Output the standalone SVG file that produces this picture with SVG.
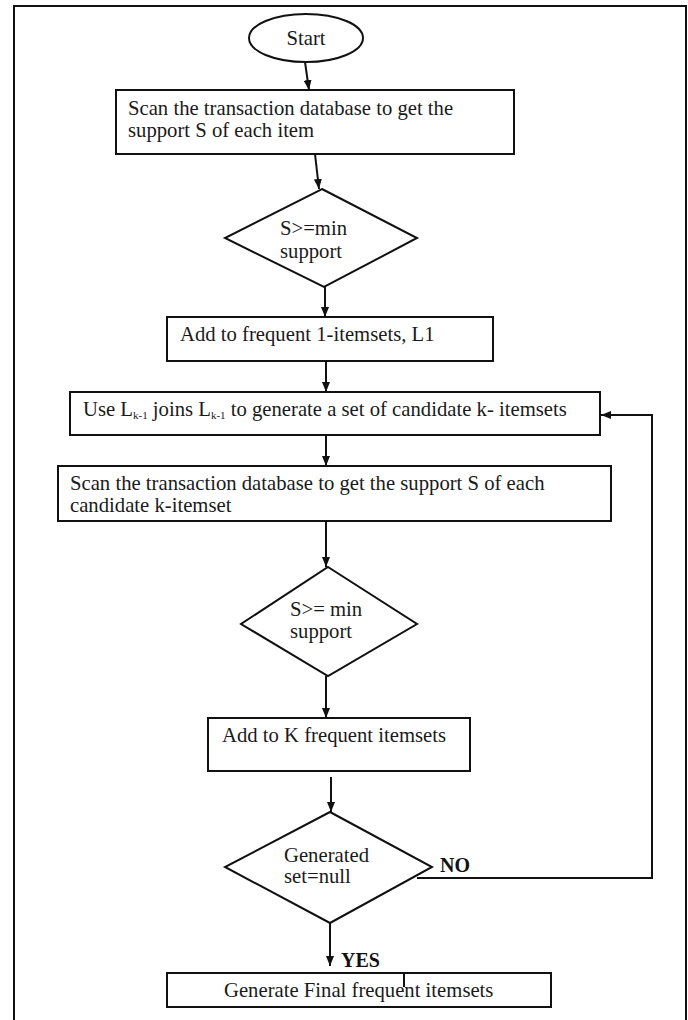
<svg xmlns="http://www.w3.org/2000/svg" width="688" height="1020" viewBox="0 0 688 1020">
<style>
.box{fill:#fff;stroke:#111;stroke-width:2}
.t{font-family:"Liberation Serif","Times New Roman",serif;font-size:20.7px;fill:#1a1a1a}
.b{font-family:"Liberation Serif","Times New Roman",serif;font-size:20px;font-weight:bold;fill:#111}
.c{fill:none;stroke:#111;stroke-width:2}
</style>
<defs>
<marker id="ah" markerUnits="userSpaceOnUse" markerWidth="10" markerHeight="8" refX="10" refY="4" orient="auto">
<path d="M0,0 L10,4 L0,8 z" fill="#111"/>
</marker>
</defs>
<rect width="688" height="1020" fill="#fff"/>
<path d="M14,1020 V6 H686 V1020" fill="none" stroke="#111" stroke-width="2"/>
<g id="connectors">
<line class="c" x1="305" y1="62" x2="309" y2="90" marker-end="url(#ah)"/>
<line class="c" x1="315" y1="154" x2="319" y2="189" marker-end="url(#ah)"/>
<line class="c" x1="325" y1="287" x2="325" y2="317" marker-end="url(#ah)"/>
<line class="c" x1="326" y1="361" x2="326" y2="392" marker-end="url(#ah)"/>
<line class="c" x1="326" y1="435" x2="326" y2="466" marker-end="url(#ah)"/>
<line class="c" x1="326" y1="521" x2="326" y2="567" marker-end="url(#ah)"/>
<line class="c" x1="326" y1="676" x2="326" y2="718" marker-end="url(#ah)"/>
<line class="c" x1="331" y1="777" x2="331" y2="812" marker-end="url(#ah)"/>
<line class="c" x1="330" y1="923" x2="330" y2="966" marker-end="url(#ah)"/>
<polyline class="c" points="417,878 652,878 652,415 601,415" marker-end="url(#ah)"/>
<text class="b" x="440" y="872">NO</text>
<text class="b" x="341" y="967">YES</text>
</g>
<g id="start">
<ellipse class="box" cx="306" cy="38" rx="57" ry="24"/>
<text class="t" x="306" y="45" text-anchor="middle">Start</text>
</g>
<g id="scan1">
<rect class="box" x="116" y="90" width="398" height="64"/>
<text class="t" x="128" y="115">Scan the transaction database to get the</text>
<text class="t" x="128" y="137">support S of each item</text>
</g>
<g id="dec1">
<polygon class="box" points="322,189 417,238 324,287 225,238"/>
<text class="t" x="280" y="235">S&gt;=min</text>
<text class="t" x="280" y="258">support</text>
</g>
<g id="add1">
<rect class="box" x="167" y="317" width="326" height="44"/>
<text class="t" x="180" y="341">Add to frequent 1-itemsets, L1</text>
</g>
<g id="join">
<rect class="box" x="70" y="392" width="530" height="43"/>
<text class="t" x="83" y="416">Use L<tspan font-size="11" dy="3">k-1</tspan><tspan dy="-3"> joins L</tspan><tspan font-size="11" dy="3">k-1</tspan><tspan dy="-3"> to generate a set of candidate k- itemsets</tspan></text>
</g>
<g id="scan2">
<rect class="box" x="58" y="466" width="553" height="55"/>
<text class="t" x="70" y="490">Scan the transaction database to get the support S of each</text>
<text class="t" x="70" y="512">candidate k-itemset</text>
</g>
<g id="dec2">
<polygon class="box" points="328,567 417,624 328,676 241,624"/>
<text class="t" x="290" y="616">S&gt;= min</text>
<text class="t" x="290" y="638">support</text>
</g>
<g id="addk">
<rect class="box" x="208" y="718" width="262" height="53"/>
<text class="t" x="222" y="742">Add to K frequent itemsets</text>
</g>
<g id="dec3">
<polygon class="box" points="330,812 432,867 330,923 225,867"/>
<text class="t" x="284" y="862">Generated</text>
<text class="t" x="284" y="883">set=null</text>
</g>
<g id="final">
<rect class="box" x="167" y="973" width="384" height="34"/>
<line class="c" x1="404" y1="973" x2="404" y2="987"/>
<text class="t" x="224" y="997">Generate Final frequent itemsets</text>
</g>
</svg>
